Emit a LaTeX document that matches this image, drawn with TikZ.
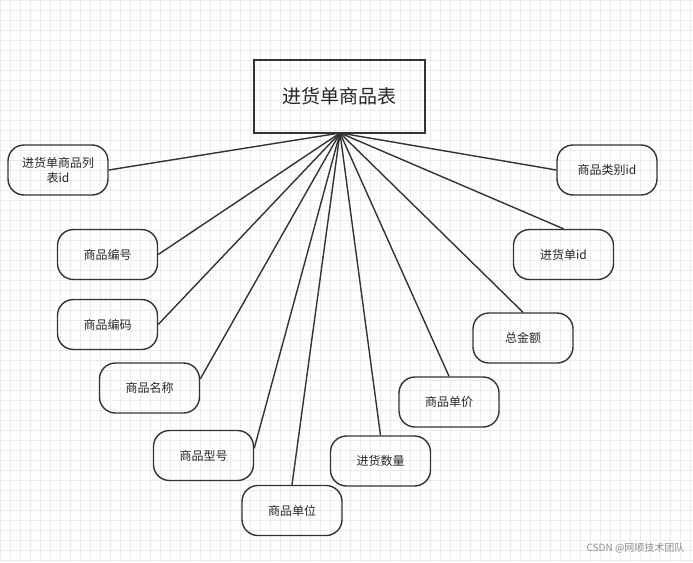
\documentclass[tikz,border=0pt]{standalone}
\usepackage{fontspec}
\setmainfont{Noto Sans CJK SC}
\usetikzlibrary{positioning}

\tikzset{
    attr/.style={draw=black!80, line width=1.4pt, rounded corners=16pt, minimum width=100pt, minimum height=50pt, align=center, font=\fontsize{12}{15}\selectfont, text=black!85},
    link/.style={draw=black!80, line width=1.4pt}
}

\begin{document}
\begin{tikzpicture}[x=1pt, y=-1pt]
    \useasboundingbox (0,0) rectangle (693,562);
    \fill[white] (0,0) rectangle (693,562);
    \draw[black!8, line width=0.5pt, step=10pt] (0,0) grid (693,562);

    \node[draw=black!80, line width=1.5pt, minimum width=171pt, minimum height=73pt, font=\fontsize{19}{22}\selectfont, text=black!85] (table) at (339.5,96.5) {进货单商品表};
    \coordinate (hub) at (340,133);

    \node[attr] (listid) at (58,170) {进货单商品列\\表id};
    \node[attr] (code) at (107.5,254.5) {商品编号};
    \node[attr] (barcode) at (107.5,324.5) {商品编码};
    \node[attr] (name) at (149.5,388) {商品名称};
    \node[attr] (model) at (203.5,455.5) {商品型号};
    \node[attr] (unit) at (292,510.5) {商品单位};
    \node[attr] (qty) at (380.5,461) {进货数量};
    \node[attr] (price) at (449,402) {商品单价};
    \node[attr] (total) at (523,338) {总金额};
    \node[attr] (orderid) at (563.5,254.5) {进货单id};
    \node[attr] (typeid) at (607,170) {商品类别id};

    \foreach \n/\a in {listid/east, code/east, barcode/east, name/10, model/8, unit/north, qty/north, price/north, total/north, orderid/north, typeid/west}
    {
    \draw[link] (hub) -- (\n.\a);
    }

    \node[text=black!45, font=\fontsize{10}{12}\selectfont, anchor=east] (mark) at (688,548) {CSDN @网顺技术团队};
\end{tikzpicture}
\end{document}
